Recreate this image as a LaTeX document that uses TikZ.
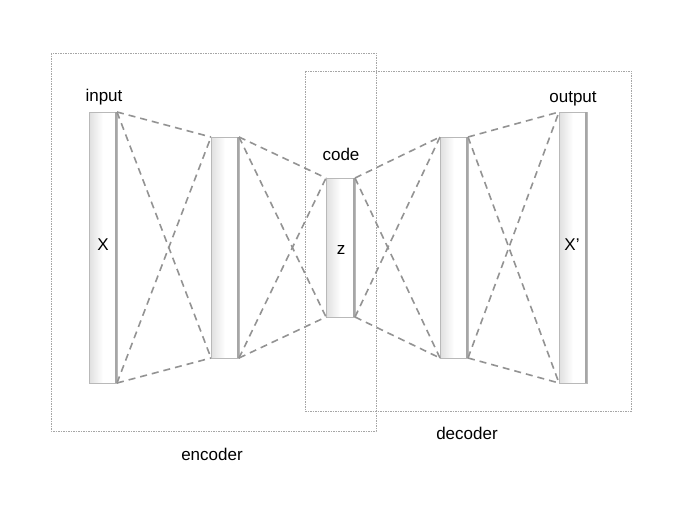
\documentclass[tikz,border=0pt]{standalone}
\usepackage{fontspec}
\setmainfont{Liberation Sans}
\begin{document}
\begin{tikzpicture}[x=1pt,y=-1pt,
  layer/.style={draw=gray!55, line width=1pt, left color=gray!25, right color=white, middle color=white, shading angle=90},
  conn/.style={draw=gray!85, line width=1.6pt, dash pattern=on 7pt off 5pt},
  frame/.style={draw=gray!70, line width=0.6pt, dash pattern=on 1.5pt off 1pt},
  lbl/.style={font=\fontsize{17}{19}\selectfont, inner sep=0pt}]
\useasboundingbox (0,0) rectangle (680,506);
\fill[white] (0,0) rectangle (680,506);
% frames
\draw[frame] (51,53) rectangle (376,431);
\draw[frame] (305,71) rectangle (631,411);
% layers
\path[layer] (89,112) rectangle (117,383);
\draw[gray!70, line width=1.2pt] (116,112) -- (116,383);
\path[layer] (211,137) rectangle (239,358);
\draw[gray!70, line width=1.2pt] (238,137) -- (238,358);
\path[layer] (326,178) rectangle (355,317);
\draw[gray!70, line width=1.2pt] (354,178) -- (354,317);
\path[layer] (440,137) rectangle (468,358);
\draw[gray!70, line width=1.2pt] (467,137) -- (467,358);
\path[layer] (559,112) rectangle (587,383);
\draw[gray!70, line width=1.2pt] (586,112) -- (586,383);
% corner coordinates
\coordinate (a1) at (117,112); \coordinate (a2) at (117,383);
\coordinate (b1) at (211,137); \coordinate (b2) at (211,358);
\coordinate (c1) at (239,137); \coordinate (c2) at (239,358);
\coordinate (d1) at (326,178); \coordinate (d2) at (326,317);
\coordinate (e1) at (355,178); \coordinate (e2) at (355,317);
\coordinate (f1) at (440,137); \coordinate (f2) at (440,358);
\coordinate (g1) at (468,137); \coordinate (g2) at (468,358);
\coordinate (h1) at (559,112); \coordinate (h2) at (559,383);
% connections
\foreach \p/\q in {a/b,c/d,e/f,g/h}{
  \draw[conn] (\p1) -- (\q1);
  \draw[conn] (\p1) -- (\q2);
  \draw[conn] (\p2) -- (\q1);
  \draw[conn] (\p2) -- (\q2);
}
% labels
\node[lbl] (tin) at (104,97) {input};
\node[lbl] (tx) at (103,245) {X};
\node[lbl] (tcode) at (341,154) {code};
\node[lbl] (tz) at (341,250) {z};
\node[lbl] (tout) at (573,99) {output};
\node[lbl] (txp) at (572,245) {X’};
\node[lbl] (tenc) at (212,454) {encoder};
\node[lbl] (tdec) at (467,433) {decoder};
\end{tikzpicture}
\end{document}
